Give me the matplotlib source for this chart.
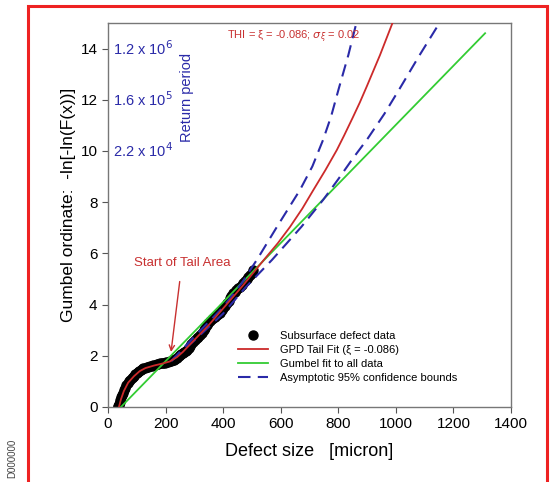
import numpy as np
import matplotlib
matplotlib.use('Agg')
import matplotlib.pyplot as plt
from matplotlib.patches import Rectangle

plt.rcParams['font.family'] = ['Liberation Sans', 'DejaVu Sans']

# subsurface defect data
dataX = [35, 36, 37, 38, 40, 42, 45, 48, 52, 56, 60, 64, 69, 74, 78, 83, 87, 91, 95, 100,
         104, 109, 113, 118, 122, 128, 134, 140, 146, 152, 158, 164, 170, 175, 180, 186,
         191, 197, 203, 209, 215, 220, 225, 229, 233, 239, 245, 250, 255, 260, 265, 270,
         274, 280, 285, 290, 295, 302, 308, 314, 320, 326, 332, 338, 343, 349, 354, 360,
         365, 371, 377, 383, 389, 395, 401, 407, 413, 419, 424, 429, 434, 440, 446, 452,
         458, 464, 470, 476, 482, 488, 493, 499, 504]
dataY = [0.0, 0.03, 0.07, 0.12, 0.2, 0.28, 0.38, 0.46, 0.55, 0.65, 0.75, 0.85, 0.94, 1.0, 1.06,
         1.12, 1.17, 1.22, 1.27, 1.32, 1.37, 1.41, 1.45, 1.49, 1.52, 1.54, 1.56, 1.58, 1.6, 1.62,
         1.64, 1.66, 1.68, 1.69, 1.7, 1.71, 1.72, 1.73, 1.75, 1.77, 1.8, 1.81, 1.83, 1.85, 1.87,
         1.93, 1.98, 2.02, 2.06, 2.1, 2.15, 2.19, 2.23, 2.32, 2.4, 2.47, 2.54, 2.61, 2.68, 2.74,
         2.8, 2.9, 3.0, 3.1, 3.2, 3.28, 3.35, 3.42, 3.48, 3.53, 3.58, 3.62, 3.67, 3.77, 3.86,
         3.96, 4.06, 4.16, 4.25, 4.35, 4.45, 4.51, 4.57, 4.63, 4.69, 4.77, 4.85, 4.92, 5.0,
         5.08, 5.15, 5.25, 5.35]

# GPD tail fit
gpdX = [38, 45, 55, 70, 90, 110, 130, 160, 190, 215, 240, 260, 300, 350, 400, 469, 538,
        590, 632, 675, 712, 755, 795, 820, 850, 875, 900, 945, 990]
gpdY = [0.0, 0.3, 0.62, 0.95, 1.2, 1.4, 1.52, 1.62, 1.7, 1.78, 1.95, 2.15, 2.62, 3.2, 3.85,
        4.75, 5.7, 6.4, 7.03, 7.75, 8.45, 9.25, 10.04, 10.6, 11.3, 11.9, 12.55, 13.75, 15.05]

# Gumbel fit to all data
gumX = [45, 1310]
gumY = [0.0, 14.6]

# asymptotic 95% confidence bounds
upX = [220, 300, 400, 464, 520, 587, 667, 710, 747, 775, 802, 835, 865]
upY = [1.8, 2.75, 3.9, 4.83, 5.8, 7.04, 8.48, 9.4, 10.43, 11.35, 12.45, 13.75, 15.1]
loX = [220, 300, 400, 476, 570, 672, 748, 800, 850, 900, 960, 1014, 1080, 1146, 1152]
loY = [1.8, 2.6, 3.65, 4.65, 5.75, 7.04, 8.1, 8.9, 9.7, 10.45, 11.45, 12.45, 13.7, 14.9, 15.0]

retY = [14, 12, 10]
retLbl = ['1.2 x 10$^6$', '1.6 x 10$^5$', '2.2 x 10$^4$']

W, H = 551, 482
fig = plt.figure(figsize=(W / 100, H / 100), dpi=100)
fig.patches.append(Rectangle((28 / W, -0.05), (547 - 28) / W, 1.05 - 6 / H,
                             transform=fig.transFigure, fill=False,
                             edgecolor='#ee2222', linewidth=2.2))

ax = fig.add_axes([108 / W, 1 - 407 / H, (511 - 108) / W, (407 - 23) / H])
blue = '#2a2aa8'
ax.plot(dataX, dataY, 'o', color='black', markersize=6.5, label='Subsurface defect data',
        zorder=2)
ax.plot(gpdX, gpdY, '-', color='#cc2a2a', linewidth=1.3, label=u'GPD Tail Fit (\u03be = -0.086)',
        zorder=4)
ax.plot(gumX, gumY, '-', color='#33cc33', linewidth=1.3, label='Gumbel fit to all data',
        zorder=3)
ax.plot(upX, upY, '--', color=blue, linewidth=1.5, dashes=(6, 3.5),
        label='Asymptotic 95% confidence bounds', zorder=3)
ax.plot(loX, loY, '--', color=blue, linewidth=1.5, dashes=(6, 3.5), zorder=3)

ax.set_xlim(0, 1400)
ax.set_ylim(0, 15)
ax.set_xticks(np.arange(0, 1401, 200))
ax.set_yticks(np.arange(0, 15, 2))
ax.tick_params(direction='out', labelsize=11, length=4, color='#555555')
for s in ax.spines.values():
    s.set_color('#777777')
    s.set_linewidth(1.0)

for y, t in zip(retY, retLbl):
    ax.text(17, y, t, color=blue, fontsize=10.5, ha='left', va='center')
ax.text(274, 12.1, 'Return period', color=blue, fontsize=10.5, rotation=90,
        ha='center', va='center')
ax.text(646, 14.45, u'THI = \u03be = -0.086; $\\sigma_\\xi$ = 0.02', color='#c83030',
        fontsize=8, ha='center', va='center')
ax.annotate('Start of Tail Area', xy=(219, 2.15), xytext=(257, 5.62),
            color='#c83030', fontsize=9.5, ha='center', va='center',
            arrowprops=dict(arrowstyle='->', color='#c83030', lw=1.0,
                            shrinkA=7, shrinkB=0))

ax.legend(loc='upper left', bbox_to_anchor=(238 / W, 1 - 331 / H),
          bbox_transform=fig.transFigure, frameon=False, fontsize=8,
          numpoints=1, handlelength=2.7, handletextpad=1.1, labelspacing=0.35,
          borderpad=0, borderaxespad=0)

fig.text(68 / W, 1 - 205 / H, 'Gumbel ordinate:  -ln[-ln(F(x))]', rotation=90,
         fontsize=12.5, ha='center', va='center')
fig.text(309 / W, 1 - 452 / H, 'Defect size   [micron]', fontsize=13,
         ha='center', va='center')
fig.text(12 / W, 1 - 458 / H, 'D000000', rotation=90, fontsize=7, color='#444444',
         ha='center', va='center')

fig.savefig('out.png', dpi=100)
